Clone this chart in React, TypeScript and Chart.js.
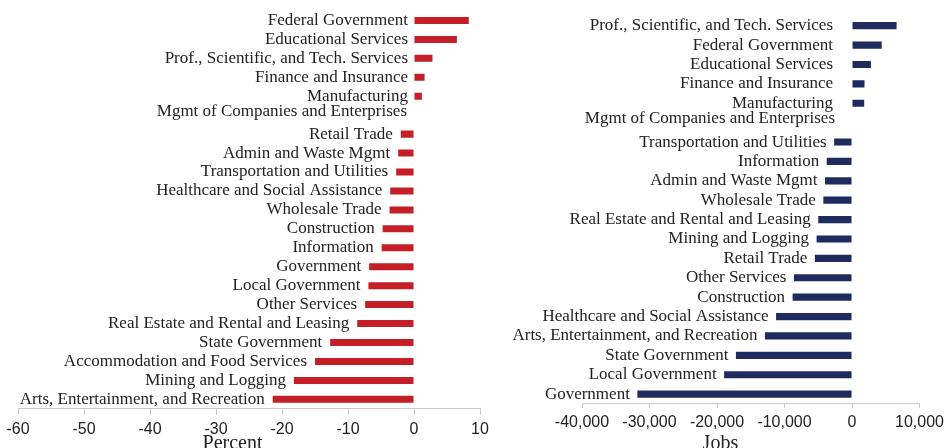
import React, { useEffect, useRef } from "react";
import { Chart, registerables } from "chart.js";

Chart.register(...registerables);

// ---- Left chart: percent change ----
const pctCategories = [
  "Federal Government",
  "Educational Services",
  "Prof., Scientific, and Tech. Services",
  "Finance and Insurance",
  "Manufacturing",
  "Mgmt of Companies and Enterprises",
  "Retail Trade",
  "Admin and Waste Mgmt",
  "Transportation and Utilities",
  "Healthcare and Social Assistance",
  "Wholesale Trade",
  "Construction",
  "Information",
  "Government",
  "Local Government",
  "Other Services",
  "Real Estate and Rental and Leasing",
  "State Government",
  "Accommodation and Food Services",
  "Mining and Logging",
  "Arts, Entertainment, and Recreation",
];
const pctValues = [
  8.3, 6.5, 2.8, 1.6, 1.2, 0, -2.0, -2.4, -2.7, -3.6, -3.7, -4.75, -4.9, -6.8,
  -6.9, -7.4, -8.6, -12.7, -15.0, -18.2, -21.4,
];
const pctTicks = [-60, -50, -40, -30, -20, -10, 0, 10];
const pctTitle = "Percent";

// ---- Right chart: jobs change ----
const jobsCategories = [
  "Prof., Scientific, and Tech. Services",
  "Federal Government",
  "Educational Services",
  "Finance and Insurance",
  "Manufacturing",
  "Mgmt of Companies and Enterprises",
  "Transportation and Utilities",
  "Information",
  "Admin and Waste Mgmt",
  "Wholesale Trade",
  "Real Estate and Rental and Leasing",
  "Mining and Logging",
  "Retail Trade",
  "Other Services",
  "Construction",
  "Healthcare and Social Assistance",
  "Arts, Entertainment, and Recreation",
  "State Government",
  "Local Government",
  "Government",
];
const jobsValues = [
  6600, 4400, 2800, 1850, 1800, 0, -2650, -3750, -4000, -4250, -5000, -5250,
  -5500, -8600, -8800, -11250, -12900, -17200, -18950, -31800,
];
const jobsTicks = [-40000, -30000, -20000, -10000, 0, 10000];
const jobsTitle = "Jobs";

const LABEL_FONT = '17px "Liberation Serif", "Times New Roman", serif';
const TITLE_FONT = '20px "Liberation Serif", "Times New Roman", serif';
const TICK_FONT_FAMILY = '"Liberation Sans", Arial, sans-serif';
const TEXT_COLOR = "#222222";
const AXIS_COLOR = "#c8c8c8";

const barLabelPlugin = {
  id: "barLabels",
  afterDatasetsDraw(chart: any, _args: any, opts: any) {
    const ctx = chart.ctx;
    const xScale = chart.scales.x;
    const meta = chart.getDatasetMeta(0);
    const labels = chart.data.labels as string[];
    const values = chart.data.datasets[0].data as number[];
    ctx.save();
    ctx.font = LABEL_FONT;
    ctx.fillStyle = TEXT_COLOR;
    ctx.textAlign = "right";
    ctx.textBaseline = "middle";
    meta.data.forEach((el: any, i: number) => {
      const v = values[i];
      const base = xScale.getPixelForValue(Math.min(0, v));
      const gap = v > 0 ? opts.posGap : v < 0 ? opts.negGap : opts.zeroGap;
      const dy = v === 0 ? opts.zeroDy : 0;
      ctx.fillText(labels[i], base - gap, el.y + dy);
    });
    // axis title
    ctx.font = TITLE_FONT;
    ctx.textAlign = "center";
    ctx.textBaseline = "alphabetic";
    ctx.fillText(opts.title, xScale.getPixelForValue(opts.titleAt), opts.titleY);
    ctx.restore();
  },
};

type Cfg = {
  labels: string[];
  values: number[];
  ticks: number[];
  color: string;
  padding: { left: number; right: number; top: number; bottom: number };
  tickLength: number;
  tickPadding: number;
  posGap: number;
  negGap: number;
  zeroGap: number;
  zeroDy: number;
  title: string;
  titleAt: number;
  titleY: number;
};

function BarChart({ cfg, width, height }: { cfg: Cfg; width: number; height: number }) {
  const ref = useRef<HTMLCanvasElement | null>(null);
  useEffect(() => {
    if (!ref.current) return;
    const tickVals = cfg.ticks;
    const chart = new Chart(ref.current, {
      type: "bar",
      data: {
        labels: cfg.labels,
        datasets: [
          {
            data: cfg.values,
            backgroundColor: cfg.color,
            borderWidth: 0,
            barPercentage: 0.37,
            categoryPercentage: 1,
          },
        ],
      },
      options: {
        indexAxis: "y",
        animation: false,
        responsive: true,
        maintainAspectRatio: false,
        devicePixelRatio: 1,
        layout: { padding: cfg.padding },
        plugins: {
          legend: { display: false },
          tooltip: { enabled: false },
          barLabels: {
            posGap: cfg.posGap,
            negGap: cfg.negGap,
            zeroGap: cfg.zeroGap,
            zeroDy: cfg.zeroDy,
            title: cfg.title,
            titleAt: cfg.titleAt,
            titleY: cfg.titleY,
          },
        } as any,
        scales: {
          y: { display: false },
          x: {
            type: "linear",
            min: tickVals[0],
            max: tickVals[tickVals.length - 1],
            afterBuildTicks: (scale: any) => {
              scale.ticks = tickVals.map((v) => ({ value: v }));
            },
            ticks: {
              color: TEXT_COLOR,
              font: { family: TICK_FONT_FAMILY, size: 16 },
              padding: cfg.tickPadding,
              maxRotation: 0,
              autoSkip: false,
              callback: (v: any) => Number(v).toLocaleString("en-US"),
            },
            grid: {
              drawOnChartArea: false,
              drawTicks: true,
              tickLength: cfg.tickLength,
              color: AXIS_COLOR,
            },
            border: { display: true, color: AXIS_COLOR, width: 1 },
          },
        },
      },
      plugins: [barLabelPlugin],
    });
    return () => chart.destroy();
  }, [cfg]);
  return (
    <div style={{ width, height, position: "relative" }}>
      <canvas ref={ref} />
    </div>
  );
}

const leftCfg: Cfg = {
  labels: pctCategories,
  values: pctValues,
  ticks: pctTicks,
  color: "#c41e26",
  padding: { left: 18, right: 20, top: 11, bottom: 4 },
  tickLength: 6,
  tickPadding: 5,
  posGap: 6,
  negGap: 8,
  zeroGap: 7,
  zeroDy: -4,
  title: pctTitle,
  titleAt: -27.5,
  titleY: 449,
};

const rightCfg: Cfg = {
  labels: jobsCategories,
  values: jobsValues,
  ticks: jobsTicks,
  color: "#1f2a5e",
  padding: { left: 82, right: 25, top: 16, bottom: 11 },
  tickLength: 4,
  tickPadding: 5,
  posGap: 19,
  negGap: 7.5,
  zeroGap: 17,
  zeroDy: -4,
  title: jobsTitle,
  titleAt: -19500,
  titleY: 449,
};

export default function App() {
  return (
    <div
      style={{
        position: "fixed",
        left: 0,
        top: 0,
        width: 944,
        height: 448,
        background: "#ffffff",
        overflow: "hidden",
      }}
    >
      <div style={{ position: "absolute", left: 0, top: 0 }}>
        <BarChart cfg={leftCfg} width={500} height={448} />
      </div>
      <div style={{ position: "absolute", left: 500, top: 0 }}>
        <BarChart cfg={rightCfg} width={449} height={448} />
      </div>
    </div>
  );
}
